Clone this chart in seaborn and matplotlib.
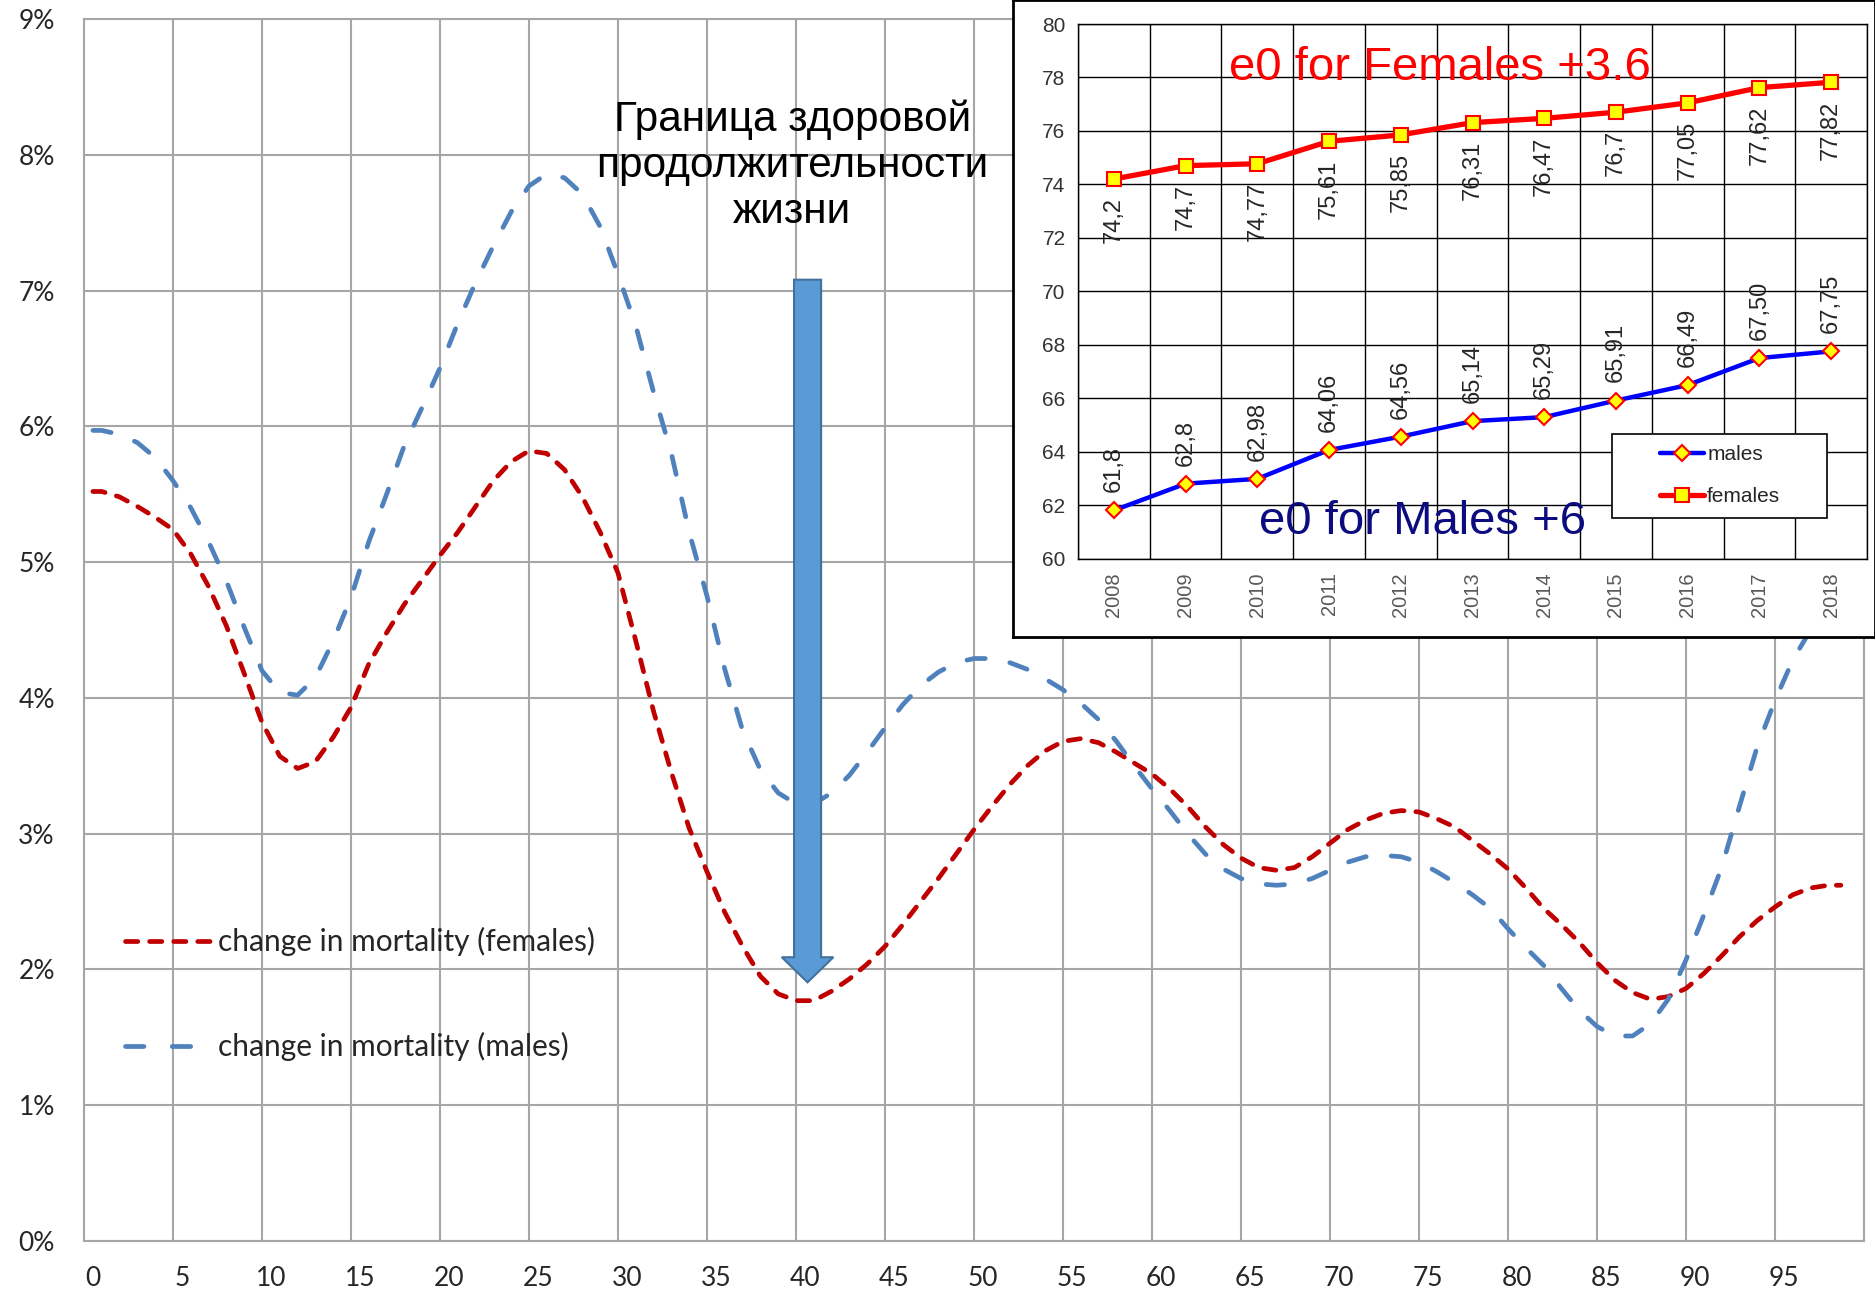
import numpy as np
import pandas as pd
import seaborn as sns
import matplotlib.pyplot as plt
from matplotlib.patches import FancyArrow, Rectangle

# main chart: change in mortality by age, %
ages = [0.5] + list(range(1, 99)) + [98.7]
females = [5.52, 5.52, 5.48, 5.41, 5.33, 5.24, 5.06, 4.82, 4.53, 4.18,
           3.82, 3.57, 3.48, 3.53, 3.71, 3.93, 4.25, 4.48, 4.69, 4.87,
           5.05, 5.22, 5.41, 5.60, 5.74, 5.82, 5.80, 5.68, 5.48, 5.22,
           4.92, 4.42, 3.90, 3.45, 3.04, 2.72, 2.42, 2.17, 1.95, 1.82,
           1.77, 1.77, 1.84, 1.93, 2.04, 2.17, 2.33, 2.50, 2.67, 2.85,
           3.03, 3.20, 3.36, 3.50, 3.61, 3.68, 3.70, 3.67, 3.60, 3.52,
           3.44, 3.33, 3.20, 3.05, 2.92, 2.82, 2.75, 2.73, 2.75, 2.83,
           2.93, 3.03, 3.10, 3.15, 3.17, 3.16, 3.11, 3.05, 2.95, 2.85,
           2.74, 2.60, 2.45, 2.33, 2.20, 2.05, 1.92, 1.83, 1.78, 1.80,
           1.86, 1.97, 2.10, 2.24, 2.36, 2.46, 2.55, 2.60, 2.62, 2.62]
males = [5.97, 5.97, 5.94, 5.88, 5.77, 5.60, 5.40, 5.15, 4.86, 4.52,
         4.20, 4.04, 4.02, 4.15, 4.42, 4.74, 5.15, 5.50, 5.86, 6.14,
         6.43, 6.76, 7.06, 7.33, 7.58, 7.77, 7.86, 7.83, 7.71, 7.47,
         7.12, 6.74, 6.25, 5.80, 5.22, 4.75, 4.21, 3.76, 3.47, 3.30,
         3.22, 3.22, 3.30, 3.43, 3.60, 3.78, 3.95, 4.09, 4.19, 4.26,
         4.29, 4.29, 4.26, 4.21, 4.14, 4.06, 3.96, 3.84, 3.68, 3.50,
         3.33, 3.17, 3.00, 2.85, 2.74, 2.67, 2.63, 2.62, 2.63, 2.67,
         2.73, 2.79, 2.83, 2.84, 2.83, 2.79, 2.72, 2.64, 2.55, 2.45,
         2.30, 2.16, 2.03, 1.86, 1.70, 1.58, 1.51, 1.51, 1.60, 1.78,
         2.07, 2.40, 2.75, 3.20, 3.64, 3.98, 4.28, 4.50, 4.68, 4.80]
age_ticks = list(range(0, 100, 5))
pct_ticks = list(range(0, 10))

# inset: life expectancy at birth
years = [2008, 2009, 2010, 2011, 2012, 2013, 2014, 2015, 2016, 2017, 2018]
e0_females = [74.2, 74.7, 74.77, 75.61, 75.85, 76.31, 76.47, 76.7, 77.05, 77.62, 77.82]
e0_males = [61.8, 62.8, 62.98, 64.06, 64.56, 65.14, 65.29, 65.91, 66.49, 67.50, 67.75]
lab_females = ["74,2", "74,7", "74,77", "75,61", "75,85", "76,31", "76,47",
               "76,7", "77,05", "77,62", "77,82"]
lab_males = ["61,8", "62,8", "62,98", "64,06", "64,56", "65,14", "65,29",
             "65,91", "66,49", "67,50", "67,75"]

sns.set_theme(style="white")
plt.rcParams['font.family'] = ['Lato', 'DejaVu Sans']

W, H = 1875, 1291
fig = plt.figure(figsize=(W / 100, H / 100), dpi=100)
ax = fig.add_axes([84 / W, 1 - 1241 / H, 1780 / W, 1222 / H])

df = pd.DataFrame({"age": ages, "females": females, "males": males})
sns.lineplot(data=df, x="age", y="females", ax=ax, color="#C00000", lw=3.4,
             linestyle=(0, (2.6, 2.5)), dash_capstyle="round",
             label="change in mortality (females)")
sns.lineplot(data=df, x="age", y="males", ax=ax, color="#4F81BD", lw=3.4,
             linestyle=(0, (3.9, 5.3)), dash_capstyle="round",
             label="change in mortality (males)")

ax.set_xlim(0, 100)
ax.set_ylim(0, 9)
ax.set_xticks(np.arange(0, 101, 5))
ax.set_xticklabels([])
ax.set_xticks([a + 0.5 for a in age_ticks], minor=True)
ax.set_xticklabels([str(a) for a in age_ticks], minor=True)
ax.set_yticks(pct_ticks)
ax.set_yticklabels([f"{p}%" for p in pct_ticks])
ax.grid(True, which="major", color="#A6A6A6", lw=1.5)
ax.tick_params(which="major", length=12, width=1.5, color="#A6A6A6",
               labelsize=19, labelcolor="#262626", pad=9)
ax.tick_params(axis="x", which="minor", length=0, labelsize=19,
               labelcolor="#262626", pad=18)
for s in ax.spines.values():
    s.set_color("#A6A6A6")
    s.set_linewidth(1.5)
ax.set_xlabel("")
ax.set_ylabel("")

leg_main = ax.legend(loc="upper left", bbox_to_anchor=(0.023, 0.257), frameon=False,
                     fontsize=21.5, handlelength=2.9, handletextpad=0.2,
                     labelspacing=2.55, borderpad=0, borderaxespad=0)
# males handle: two whole dashes as in the original
leg_main.get_lines()[1].set_dashes([3.9, 6.0])

# healthy life boundary arrow
arrow_x, arrow_top, arrow_tip = 40.65, 7.08, 1.905
ax.add_patch(FancyArrow(arrow_x, arrow_top, 0, arrow_tip - arrow_top, width=1.52,
                        head_width=2.9, head_length=0.185, length_includes_head=True,
                        facecolor="#5B9BD5", edgecolor="#41719C", lw=1.5, zorder=5))
ax.text(39.8, 7.92, "Граница здоровой\nпродолжительности\nжизни", ha="center",
        va="center", fontsize=30.5, family=["Liberation Sans", "DejaVu Sans"],
        color="black", linespacing=1.2)

# inset frame
fr = fig.add_axes([1013 / W, 1 - 637 / H, (W - 1013) / W, 637 / H])
fr.set_facecolor("white")
fr.set_xticks([])
fr.set_yticks([])
for s in fr.spines.values():
    s.set_color("black")
    s.set_linewidth(2)

arial = ["Liberation Sans", "DejaVu Sans"]
ins = fig.add_axes([1078 / W, 1 - 558.5 / H, 789 / W, 534.5 / H])
ins.set_facecolor("white")
sns.lineplot(x=years, y=e0_males, ax=ins, color="#0000FF", lw=3.2, marker="D",
             ms=8.5, mfc="#FFFF00", mec="#FF0000", mew=1.5, label="males", zorder=4)
sns.lineplot(x=years, y=e0_females, ax=ins, color="#FF0000", lw=3.8, marker="s",
             ms=10.5, mfc="#FFFF00", mec="#FF0000", mew=1.5, label="females", zorder=4)
for yr, v, t in zip(years, e0_females, lab_females):
    ins.annotate(t, (yr, v), xytext=(0, -13), textcoords="offset points",
                 rotation=90, ha="center", va="top", fontsize=17, family=arial)
for yr, v, t in zip(years, e0_males, lab_males):
    ins.annotate(t, (yr, v), xytext=(0, 13), textcoords="offset points",
                 rotation=90, ha="center", va="bottom", fontsize=17, family=arial)

ins.set_xlim(2007.5, 2018.5)
ins.set_ylim(60, 80)
ins.set_xticks([y - 0.5 for y in years] + [2018.5])
ins.set_xticklabels([])
ins.set_xticks(years, minor=True)
ins.set_xticklabels([str(y) for y in years], minor=True, rotation=90,
                    family=arial)
ins.set_yticks(range(60, 81, 2))
ins.set_yticklabels([str(v) for v in range(60, 81, 2)], family=arial)
ins.grid(True, which="major", color="black", lw=1)
ins.tick_params(which="major", length=6, width=1, color="black",
                labelsize=15, labelcolor="#333333", pad=3)
ins.tick_params(axis="x", which="minor", length=0, labelsize=14.5,
                labelcolor="#595959", pad=10)
for s in ins.spines.values():
    s.set_color("black")
    s.set_linewidth(1)
ins.set_xlabel("")
ins.set_ylabel("")

ins.text(2012.55, 78.35, "e0 for Females +3.6", ha="center", va="center",
         fontsize=34, color="#FF0000", family=arial)
ins.text(2012.3, 61.35, "e0 for Males +6", ha="center", va="center",
         fontsize=34, color="#0C0C80", family=arial)

# inset legend with a wide box
ins.add_patch(Rectangle((0.677, 0.076), 0.272, 0.157, transform=ins.transAxes,
                        facecolor="white", edgecolor="black", lw=1.2, zorder=6))
leg = ins.legend(loc="center", bbox_to_anchor=(0.814, 0.155),
                 prop={"family": arial, "size": 15}, frameon=False,
                 handlelength=2.1, handletextpad=0.15, labelspacing=1.1,
                 borderpad=0, numpoints=1)
leg.set_zorder(7)

fig.savefig("out.png", dpi=100)
